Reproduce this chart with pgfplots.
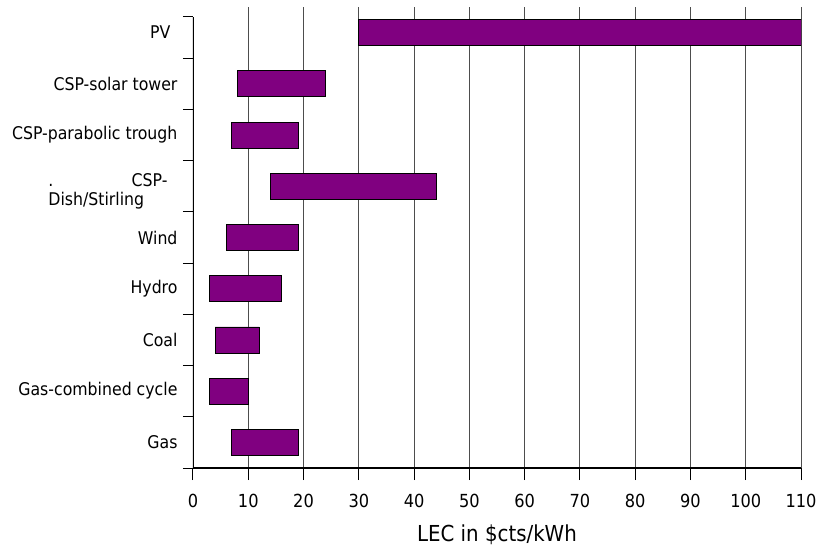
\documentclass[border=0pt]{standalone}
\usepackage{fontspec}
\setmainfont{DejaVu Sans Condensed}
\usepackage{pgfplots}
\pgfplotsset{compat=1.18}
\usepackage{pgfplotstable}
\definecolor{barpurple}{HTML}{800080}
\definecolor{gridgray}{HTML}{4D4D4D}

% pos: 0 = Gas (bottom) ... 8 = PV (top); bar from start to start+len
\pgfplotstableread{
pos start len
0   7     12
1   3     7
2   4     8
3   3     13
4   6     13
5   14    30
6   7     12
7   8     16
8   30    80
}\lec

\begin{document}
\begin{tikzpicture}
  \path[use as bounding box] (-193pt,-78pt) rectangle (625pt,468pt);
  \begin{axis}[
      at={(0,0)}, anchor=south west,
      scale only axis,
      width=608pt, height=461pt,
      xbar stacked,
      bar width=26pt,
      xmin=0, xmax=110,
      ymin=-0.5, ymax=8.5,
      axis x line*=bottom,
      axis y line*=left,
      y axis line style={draw=none},
      x axis line style={line width=1.2pt},
      xtick={10,20,...,110},
      extra x ticks={0},
      extra x tick style={grid=none},
      xmajorgrids,
      grid style={gridgray, line width=1pt},
      tick align=outside,
      major tick length=12pt,
      minor tick length=10pt,
      every tick/.style={black, line width=1pt},
      ytick={0,...,8},
      minor ytick={-0.5,0.5,...,7.5,8.305},
      major y tick style={draw=none},
      yticklabels={
        Gas,
        Gas-combined cycle,
        Coal,
        Hydro,
        Wind,
        {\begin{tabular}{@{}l@{}}\rule{0pt}{25pt}\makebox[129pt][l]{.\hfill CSP-\kern10pt}\\Dish/Stirling\end{tabular}},
        CSP-parabolic trough,
        CSP-solar tower,
        PV\kern7pt
      },
      yticklabel style={font=\fontsize{17.5}{19}\selectfont},
      xticklabel style={font=\fontsize{18}{20}\selectfont, yshift=-11pt},
      /pgf/number format/assume math mode=true,
      xlabel={LEC in \$cts/kWh},
      xlabel style={font=\fontsize{22}{26}\selectfont,
        at={(axis description cs:0.5,0)}, anchor=north, yshift=-53pt},
    ]
    \addplot[draw=none, fill=none] table[x=start, y=pos] {\lec};
    \addplot[fill=barpurple, draw=black, line width=0.8pt] table[x=len, y=pos] {\lec};
    \draw[black, line width=1.2pt] (axis cs:0,-0.5) -- (axis cs:0,8.305);
  \end{axis}
\end{tikzpicture}
\end{document}
